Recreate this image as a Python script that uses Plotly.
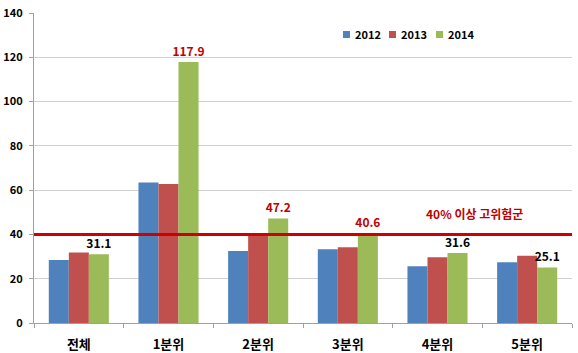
import plotly.graph_objects as go

categories = ["전체", "1분위", "2분위", "3분위", "4분위", "5분위"]
years = ["2012", "2013", "2014"]
v2012 = [28.4, 63.4, 32.5, 33.3, 25.6, 27.4]
v2013 = [31.8, 62.8, 40.3, 34.2, 29.7, 30.4]
v2014 = [31.1, 117.9, 47.2, 40.6, 31.6, 25.1]
labels_2014 = ["31.1", "117.9", "47.2", "40.6", "31.6", "25.1"]
threshold = 40
threshold_label = "40% 이상 고위험군"
colors = ["#4F81BD", "#C0504D", "#9BBB59"]
yticks = [0, 20, 40, 60, 80, 100, 120, 140]

FONT = "Noto Sans CJK KR"
label_colors = ["#C00000" if v > threshold else "#000000" for v in v2014]

fig = go.Figure()
for name, vals, c in zip(years, [v2012, v2013, v2014], colors):
    kw = {}
    if name == "2014":
        kw = dict(text=labels_2014, textposition="outside", texttemplate="<b>%{text}</b>",
                  textfont=dict(family=FONT, size=12, color=label_colors),
                  cliponaxis=False, constraintext="none")
    fig.add_trace(go.Bar(x=categories, y=vals, name=name, marker_color=c,
                         marker_line_width=0, showlegend=False, **kw))

fig.add_hline(y=threshold, line=dict(color="#D00000", width=3))
fig.add_annotation(x=4.41, y=49.5, xref="x", yref="y", text="<b>" + threshold_label + "</b>",
                   showarrow=False, font=dict(family=FONT, size=12, color="#C00000"))

# compact legend (small squares close to text, as in the original)
L, W, T, H = 34, 538, 13, 310
def px(x):
    return (x - L) / W
def py(y):
    return 1 - (y - T) / H
leg_x = [343, 389, 436]
for lx, name, c in zip(leg_x, years, colors):
    fig.add_shape(type="rect", xref="paper", yref="paper",
                  x0=px(lx), x1=px(lx + 7), y0=py(38), y1=py(31),
                  fillcolor=c, line_width=0)
    fig.add_annotation(xref="paper", yref="paper", x=px(lx + 10), y=py(34.5),
                       xanchor="left", yanchor="middle", showarrow=False,
                       text="<b>" + name + "</b>", font=dict(family=FONT, size=11, color="#000"))

fig.update_layout(
    width=578, height=353,
    margin=dict(l=L, r=578 - L - W, t=T, b=353 - T - H, autoexpand=False),
    paper_bgcolor="white", plot_bgcolor="white",
    barmode="group", bargap=0.33, bargroupgap=0,
    font=dict(family=FONT, size=11, color="#000000"),
    showlegend=False,
)
fig.update_xaxes(type="category", tickson="boundaries", ticks="outside", ticklen=4,
                 tickcolor="#A0A0A0", showline=True, linecolor="#A0A0A0",
                 tickfont=dict(family=FONT, size=13), showgrid=False,
                 tickvals=categories, ticktext=["<b>%s</b>" % c for c in categories],
                 ticklabelstandoff=9, automargin=False)
fig.update_yaxes(range=[0, 140], showgrid=True, gridcolor="#D0D0D0",
                 showline=True, linecolor="#A0A0A0", ticks="outside", ticklen=4,
                 tickcolor="#A0A0A0", tickfont=dict(family=FONT, size=11),
                 tickvals=yticks, ticktext=["<b>%d</b>" % v for v in yticks],
                 zeroline=False, ticklabelstandoff=4, automargin=False)
fig.write_html("out.html")
